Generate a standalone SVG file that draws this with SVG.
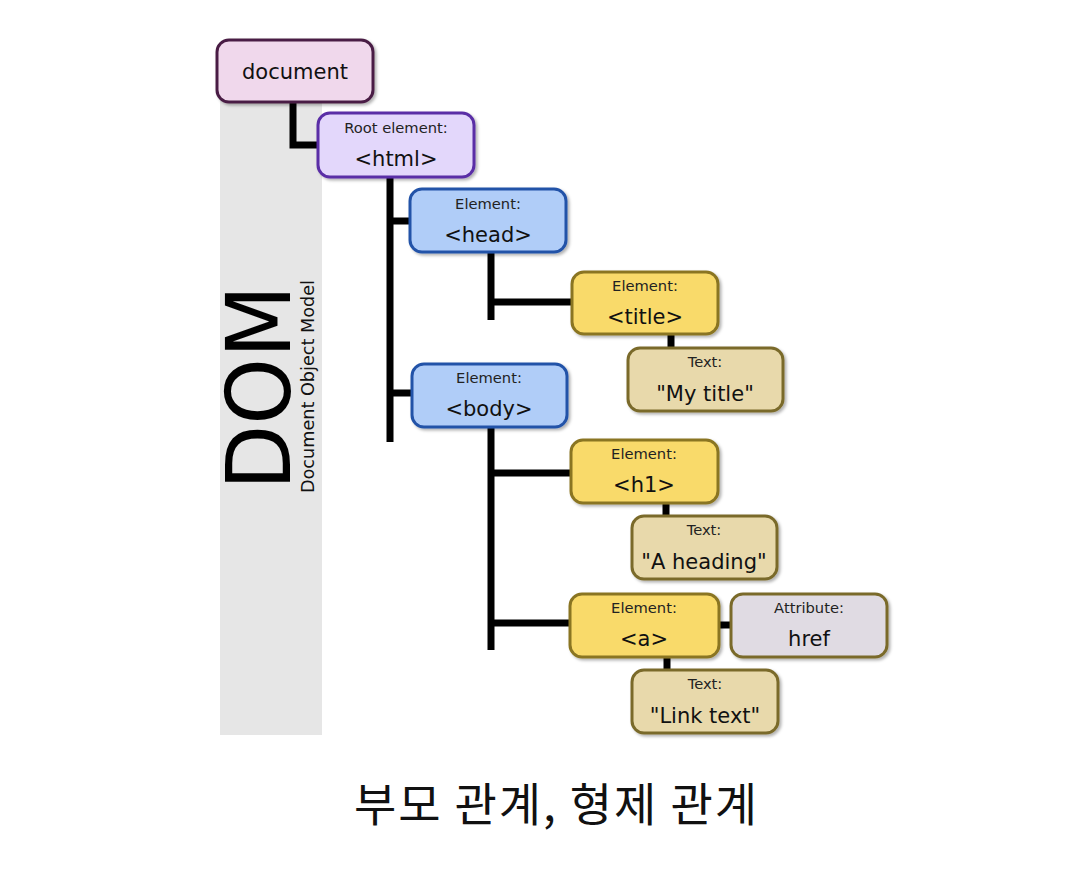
<svg xmlns="http://www.w3.org/2000/svg" width="1090" height="892" viewBox="0 0 1090 892">
<defs>
<filter id="sh" x="-10%" y="-10%" width="130%" height="130%">
<feDropShadow dx="2" dy="2" stdDeviation="1.5" flood-color="#000" flood-opacity="0.3"/>
</filter>
<style>
.box{stroke-width:3;filter:url(#sh)}
.doc{fill:#f0d8ec;stroke:#4a1f45}
.html{fill:#e3d7fb;stroke:#5a2ea6}
.el{fill:#b0cdf8;stroke:#2352a8}
.y{fill:#f9da6a;stroke:#8a7420}
.t{fill:#e8d9ab;stroke:#7a6a2a}
.at{fill:#e0dbe3;stroke:#7a6a2a}
.sm{font-family:"DejaVu Sans",sans-serif;font-size:14.7px;fill:#222;text-anchor:middle}
.lg{font-family:"DejaVu Sans",sans-serif;font-size:21px;fill:#111;text-anchor:middle}
.con{stroke:#000;stroke-width:7;fill:none}
</style>
</defs>
<rect width="1090" height="892" fill="#fff"/>
<rect x="220" y="100" width="102" height="635" fill="#e6e6e6"/>
<text transform="translate(290,490) rotate(-90)" font-family="DejaVu Sans,sans-serif" font-size="89" fill="#000" textLength="205" lengthAdjust="spacingAndGlyphs">DOM</text>
<text transform="translate(314,493) rotate(-90)" font-family="DejaVu Sans,sans-serif" font-size="18" fill="#111" textLength="213" lengthAdjust="spacingAndGlyphs">Document Object Model</text>
<g id="connectors">
<path class="con" d="M293,102 V145 H318"/>
<path class="con" d="M390,177 V442 M390,221 H410 M390,393 H412"/>
<path class="con" d="M491,252 V320 M491,302 H572"/>
<path class="con" d="M671,334 V348"/>
<path class="con" d="M491,426 V650 M491,473 H571 M491,623 H570"/>
<path class="con" d="M666,503 V516"/>
<path class="con" d="M719,625 H731"/>
<path class="con" d="M667,657 V670"/>
</g>
<g id="document">
<rect class="box doc" x="217" y="40" width="156" height="62" rx="12"/>
<text class="lg" x="295" y="79">document</text>
</g>
<g id="html">
<rect class="box html" x="318" y="113" width="156" height="64" rx="12"/>
<text class="sm" x="396" y="133">Root element:</text>
<text class="lg" x="396" y="166">&lt;html&gt;</text>
</g>
<g id="head">
<rect class="box el" x="410" y="189" width="156" height="63" rx="12"/>
<text class="sm" x="488" y="209">Element:</text>
<text class="lg" x="488" y="242">&lt;head&gt;</text>
</g>
<g id="title">
<rect class="box y" x="572" y="272" width="146" height="62" rx="12"/>
<text class="sm" x="645" y="291">Element:</text>
<text class="lg" x="645" y="324">&lt;title&gt;</text>
</g>
<g id="mytitle">
<rect class="box t" x="628" y="348" width="155" height="63" rx="12"/>
<text class="sm" x="705" y="367">Text:</text>
<text class="lg" x="705" y="401">"My title"</text>
</g>
<g id="body">
<rect class="box el" x="412" y="364" width="155" height="63" rx="12"/>
<text class="sm" x="489" y="383">Element:</text>
<text class="lg" x="489" y="416">&lt;body&gt;</text>
</g>
<g id="h1">
<rect class="box y" x="571" y="440" width="147" height="63" rx="12"/>
<text class="sm" x="644" y="459">Element:</text>
<text class="lg" x="644" y="492">&lt;h1&gt;</text>
</g>
<g id="aheading">
<rect class="box t" x="632" y="516" width="145" height="63" rx="12"/>
<text class="sm" x="704" y="535">Text:</text>
<text class="lg" x="704" y="569">"A heading"</text>
</g>
<g id="a">
<rect class="box y" x="570" y="594" width="149" height="63" rx="12"/>
<text class="sm" x="644" y="613">Element:</text>
<text class="lg" x="644" y="646">&lt;a&gt;</text>
</g>
<g id="href">
<rect class="box at" x="731" y="594" width="156" height="63" rx="12"/>
<text class="sm" x="809" y="613">Attribute:</text>
<text class="lg" x="809" y="646">href</text>
</g>
<g id="linktext">
<rect class="box t" x="632" y="670" width="146" height="63" rx="12"/>
<text class="sm" x="705" y="689">Text:</text>
<text class="lg" x="705" y="723">"Link text"</text>
</g>
<text x="354" y="821" font-family="'Noto Sans CJK KR',sans-serif" font-size="46" fill="#111" textLength="403" lengthAdjust="spacing">부모 관계, 형제 관계</text>
</svg>
